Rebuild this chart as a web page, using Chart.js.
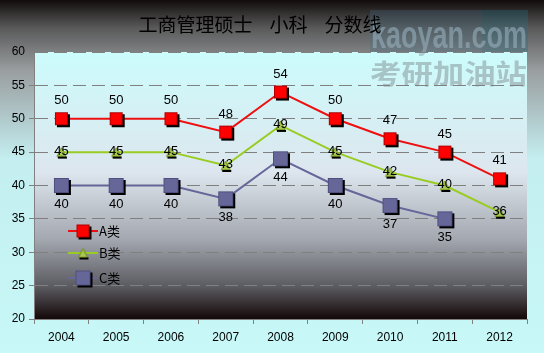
<!DOCTYPE html>
<html>
<head>
<meta charset="utf-8">
<script src="https://cdn.jsdelivr.net/npm/chart.js@4"></script>
<style>
  body { margin: 0; background: #c8f8f8; }
  #wrap { width: 544px; height: 353px; }
</style>
</head>
<body>
<div id="wrap"><canvas id="score-chart"></canvas></div>
<script>
const years = ['2004', '2005', '2006', '2007', '2008', '2009', '2010', '2011', '2012'];
const scoresA = [50, 50, 50, 48, 54, 50, 47, 45, 41];
const scoresB = [45, 45, 45, 43, 49, 45, 42, 40, 36];
const scoresC = [40, 40, 40, 38, 44, 40, 37, 35, null];
const seriesNames = ['A类', 'B类', 'C类'];
const chartTitle = '工商管理硕士    小科    分数线';

const FONT = '"Liberation Sans", "DejaVu Sans", sans-serif';
const CJK = '"Noto Sans CJK SC", sans-serif';

// square / triangle marker with a little black shadow, used as pointStyle
function makeMarker(shape, color, border, size) {
  const off = 3;
  const c = document.createElement('canvas');
  c.width = size + off * 2;
  c.height = size + off * 2;
  const ctx = c.getContext('2d');
  if (shape === 'rect') {
    ctx.fillStyle = '#000';
    ctx.fillRect(off + 2, off + 2, size, size);
    ctx.fillStyle = color;
    ctx.fillRect(off, off, size, size);
    ctx.strokeStyle = border;
    ctx.lineWidth = 1;
    ctx.strokeRect(off + 0.5, off + 0.5, size - 1, size - 1);
  } else {
    ctx.fillStyle = color;
    ctx.strokeStyle = border;
    ctx.beginPath();
    ctx.moveTo(off + size / 2, off);
    ctx.lineTo(off + size, off + size);
    ctx.lineTo(off, off + size);
    ctx.closePath();
    ctx.fill();
    ctx.stroke();
    ctx.fillStyle = '#000';
    ctx.fillRect(off + 1, off + size, size, 2);
  }
  return c;
}

const markerA = makeMarker('rect', '#ff0000', '#b00000', 13);
const markerB = makeMarker('tri', '#a8c850', '#6a8a10', 9);
const markerC = makeMarker('rect', '#666699', '#505080', 15);

function fitText(ctx, text, x, y, w) {
  const m = ctx.measureText(text).width;
  ctx.save();
  ctx.translate(x, y);
  ctx.scale(w / m, 1);
  ctx.fillText(text, 0, 0);
  ctx.restore();
}

const backgroundPlugin = {
  id: 'background',
  beforeDraw(chart) {
    const {ctx, chartArea: a, width, height} = chart;
    ctx.save();
    let g = ctx.createLinearGradient(0, 0, 0, height);
    g.addColorStop(0, '#120c0c');
    g.addColorStop(0.08, '#5a5a5a');
    g.addColorStop(0.2, '#9a9ea0');
    g.addColorStop(0.45, '#c4eef0');
    g.addColorStop(1, '#c8f8f8');
    ctx.fillStyle = g;
    ctx.fillRect(0, 0, width, height);

    g = ctx.createLinearGradient(0, a.top, 0, a.bottom);
    g.addColorStop(0, '#ccfcfc');
    g.addColorStop(0.45, '#dde6ee');
    g.addColorStop(0.7, '#a4a8b0');
    g.addColorStop(0.88, '#5a5a60');
    g.addColorStop(1, '#140808');
    ctx.fillStyle = g;
    ctx.fillRect(a.left, a.top, a.right - a.left, a.bottom - a.top);

    // watermark
    ctx.fillStyle = 'rgba(70, 110, 130, 0.3)';
    ctx.fillRect(370, 10, 112, 42);
    ctx.fillStyle = 'rgba(40, 110, 130, 0.35)';
    ctx.fillRect(482, 10, 46, 42);
    ctx.font = 'bold 38px ' + FONT;
    ctx.fillStyle = 'rgba(150, 175, 190, 0.6)';
    ctx.textAlign = 'left';
    ctx.textBaseline = 'alphabetic';
    fitText(ctx, 'kaoyan.com', 371, 48, 156);
    ctx.font = 'bold 27px ' + CJK;
    ctx.fillStyle = 'rgba(120, 130, 135, 0.45)';
    fitText(ctx, '考研加油站', 370, 84, 157);

    // title
    ctx.font = '19px ' + CJK;
    ctx.fillStyle = '#000';
    ctx.textAlign = 'center';
    ctx.textBaseline = 'middle';
    ctx.fillText(chartTitle, 260, 25);
    ctx.restore();
  }
};

const labelPlugin = {
  id: 'pointLabels',
  afterDatasetsDraw(chart) {
    const ctx = chart.ctx;
    ctx.save();
    ctx.font = '13px ' + FONT;
    ctx.fillStyle = '#000';
    ctx.textAlign = 'center';
    ctx.textBaseline = 'middle';
    chart.data.datasets.forEach((ds, i) => {
      chart.getDatasetMeta(i).data.forEach((pt, j) => {
        const v = ds.data[j];
        if (v === null) return;
        let y = pt.y;
        if (i === 0) y -= 18;
        if (i === 2) y += 19;
        if (i === 1) y -= 1;
        ctx.fillText(String(v), pt.x, y);
      });
    });

    // legend inside the plot
    const a = chart.chartArea;
    const rows = [231, 253, 278];
    chart.data.datasets.forEach((ds, i) => {
      const y = rows[i];
      const x0 = a.left + 34;
      ctx.strokeStyle = ds.borderColor;
      ctx.lineWidth = 2;
      ctx.beginPath();
      ctx.moveTo(x0, y);
      ctx.lineTo(x0 + 30, y);
      ctx.stroke();
      const m = ds.pointStyle;
      ctx.drawImage(m, x0 + 15 - m.width / 2, y - m.height / 2);
      ctx.font = '13px ' + CJK;
      ctx.textAlign = 'left';
      ctx.fillStyle = '#000';
      ctx.fillText(ds.label, x0 + 31, y);
    });
    ctx.restore();
  }
};

new Chart(document.getElementById('score-chart'), {
  type: 'line',
  data: {
    labels: years,
    datasets: [
      {label: seriesNames[0], data: scoresA, borderColor: '#ee1010', borderWidth: 2, pointStyle: markerA, pointRadius: 7},
      {label: seriesNames[1], data: scoresB, borderColor: '#99cc22', borderWidth: 2, pointStyle: markerB, pointRadius: 6},
      {label: seriesNames[2], data: scoresC, borderColor: '#666699', borderWidth: 2, pointStyle: markerC, pointRadius: 8}
    ]
  },
  options: {
    responsive: true,
    maintainAspectRatio: false,
    animation: false,
    layout: {padding: {top: 52, right: 17, left: 0, bottom: 0}},
    plugins: {
      legend: {display: false},
      tooltip: {enabled: false}
    },
    scales: {
      x: {
        offset: true,
        afterFit(scale) { scale.height = 34; },
        grid: {drawOnChartArea: false, color: '#808080', tickLength: 5, offset: true},
        border: {color: '#808080'},
        ticks: {color: '#000', font: {family: FONT, size: 12}, padding: 6}
      },
      y: {
        min: 20,
        max: 60,
        afterFit(scale) { scale.width = 34; },
        ticks: {stepSize: 5, color: '#000', font: {family: FONT, size: 12}, padding: 4},
        grid: {color: '#808080', tickLength: 5},
        border: {color: '#808080', dash: [13, 6]}
      }
    }
  },
  plugins: [backgroundPlugin, labelPlugin]
});
</script>
</body>
</html>
